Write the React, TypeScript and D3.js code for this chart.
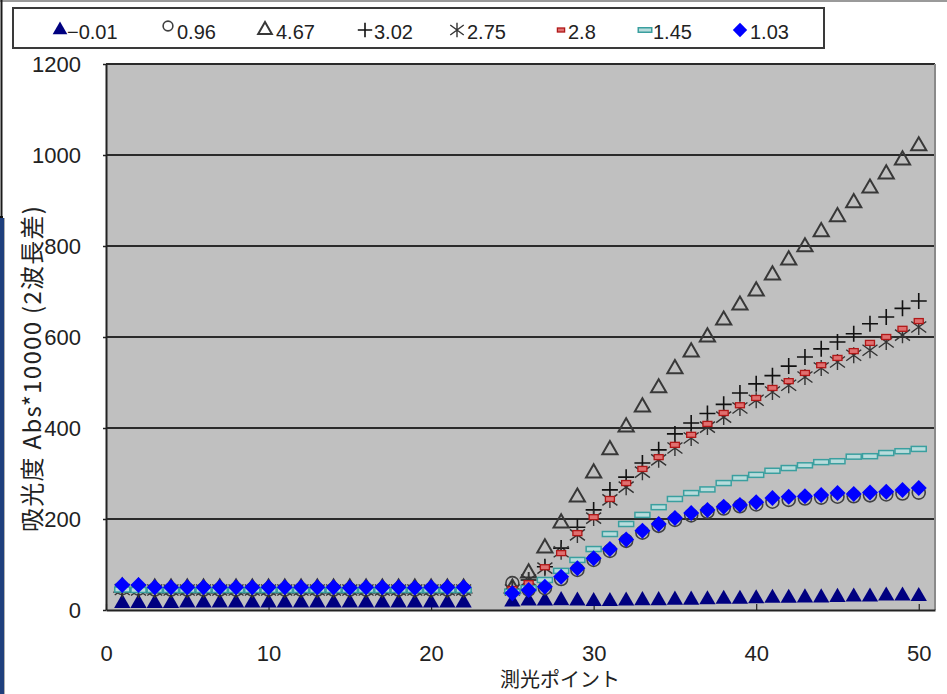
import { useEffect, useRef } from 'react';
import * as d3 from 'd3';

// measurement points (23 and 24 are missing)
const points = [
  1, 2, 3, 4, 5, 6, 7, 8, 9, 10, 11, 12, 13, 14, 15, 16, 17, 18, 19, 20, 21, 22,
  25, 26, 27, 28, 29, 30, 31, 32, 33, 34, 35, 36, 37, 38, 39, 40, 41, 42, 43, 44, 45, 46, 47, 48, 49, 50,
];

const seriesNames = ['-0.01', '0.96', '4.67', '3.02', '2.75', '2.8', '1.45', '1.03'];

const sMinus001 = [
  15, 15, 15, 15, 16, 16, 16, 16, 16, 16, 16, 16, 16, 16, 16, 16, 16, 16, 16, 16, 16, 16,
  18, 20, 20, 21, 20, 19, 19, 20, 21, 21, 22, 22, 23, 24, 24, 25, 26, 26, 27, 27, 28, 29, 29, 31, 31, 30,
];
const s096 = [
  48, 47, 45, 45, 45, 45, 45, 45, 45, 45, 45, 45, 45, 45, 45, 45, 45, 45, 45, 45, 45, 45,
  59, 45, 48, 68, 88, 110, 130, 152, 170, 185, 198, 208, 216, 223, 228, 232, 238, 242, 245, 247, 249, 250, 252, 254, 256, 258,
];
const s467 = [
  50, 49, 48, 48, 48, 48, 48, 48, 48, 48, 48, 48, 48, 48, 48, 48, 48, 48, 48, 48, 48, 48,
  48, 81, 136, 191, 248, 301, 352, 402, 446, 488, 530, 567, 600, 637, 670, 701, 736, 769, 798, 831, 864, 895, 927, 958, 989, 1020,
];
const s302 = [
  47, 46, 46, 46, 46, 46, 46, 46, 46, 46, 46, 46, 46, 46, 46, 46, 46, 46, 46, 46, 46, 46,
  45, 66, 95, 136, 182, 220, 264, 292, 323, 352, 387, 411, 432, 452, 477, 497, 515, 536, 556, 574, 589, 607, 629, 644, 663, 679,
];
const s275 = [
  45, 44, 44, 44, 44, 44, 44, 44, 44, 44, 44, 44, 44, 44, 44, 44, 44, 44, 44, 44, 44, 44,
  44, 66, 92, 128, 165, 202, 242, 270, 303, 330, 356, 378, 402, 424, 444, 461, 479, 494, 512, 532, 545, 560, 571, 589, 604, 622,
];
const s28 = [
  47, 46, 46, 46, 46, 46, 46, 46, 46, 46, 46, 46, 46, 46, 46, 46, 46, 46, 46, 46, 46, 46,
  46, 59, 94, 125, 169, 204, 244, 279, 310, 336, 363, 385, 409, 433, 450, 466, 488, 503, 521, 538, 554, 569, 587, 600, 618, 635,
];
const s145 = [
  45, 44, 44, 44, 44, 44, 44, 44, 44, 44, 44, 44, 44, 44, 44, 44, 44, 44, 44, 44, 44, 44,
  40, 48, 66, 86, 110, 134, 167, 189, 209, 226, 244, 257, 265, 279, 290, 297, 306, 312, 318, 325, 327, 337, 338, 345, 349, 354,
];
const s103 = [
  55, 55, 50, 50, 50, 50, 50, 50, 50, 50, 50, 50, 50, 50, 49, 50, 50, 50, 49, 50, 50, 50,
  37, 44, 51, 73, 92, 114, 134, 155, 174, 189, 202, 213, 220, 227, 231, 237, 246, 249, 250, 253, 257, 255, 258, 260, 264, 268,
];

const xTicks = [0, 10, 20, 30, 40, 50];
const yTicks = [0, 200, 400, 600, 800, 1000, 1200];

const xTitle = '測光ポイント';
const yTitle = '吸光度 Abs*10000 (2波長差)';

const seriesValues = [sMinus001, s096, s467, s302, s275, s28, s145, s103];
const markerKinds = ['triFill', 'circle', 'triOpen', 'plus', 'star', 'redDash', 'tealDash', 'diamond'];

const W = 947;
const H = 694;
const FONT = '"Liberation Sans", Arial, "Noto Sans CJK JP", sans-serif';
const JFONT = '"Noto Sans CJK JP", "Liberation Sans", sans-serif';

type G = d3.Selection<SVGGElement, unknown, null, undefined>;

// draw a single marker centred on the origin of g
function drawMarker(g: G, kind: string, scale = 1) {
  const tri = (area: number) => d3.symbol().type(d3.symbolTriangle).size(area * scale * scale)()!;
  if (kind === 'triFill') {
    g.append('path').attr('d', tri(115)).attr('fill', '#000080');
  } else if (kind === 'circle') {
    g.append('circle').attr('r', 6.5 * scale).attr('fill', 'none').attr('stroke', '#404040').attr('stroke-width', 1.6);
  } else if (kind === 'triOpen') {
    g.append('path').attr('d', tri(100)).attr('fill', 'none').attr('stroke', '#383838').attr('stroke-width', 2);
  } else if (kind === 'plus') {
    const s = 8 * scale;
    g.append('path').attr('d', `M${-s},0H${s}M0,${-s}V${s}`).attr('stroke', '#111').attr('stroke-width', 1.6);
  } else if (kind === 'star') {
    const a = 7.5 * scale, b = 5.5 * scale, c = 8 * scale;
    g.append('path')
      .attr('d', `M${-a},${-b}L${a},${b}M${-a},${b}L${a},${-b}M0,${-c}V${c}`)
      .attr('stroke', '#333').attr('stroke-width', 1.4);
  } else if (kind === 'redDash') {
    g.append('rect').attr('x', -4.5 * scale).attr('y', -2.5 * scale).attr('width', 9 * scale).attr('height', 5 * scale)
      .attr('fill', '#e07070').attr('stroke', '#b01818').attr('stroke-width', 1.3);
  } else if (kind === 'tealDash') {
    g.append('rect').attr('x', -7.5 * scale).attr('y', -2.5 * scale).attr('width', 15 * scale).attr('height', 5 * scale)
      .attr('fill', '#b8dcdc').attr('stroke', '#3a9f9f').attr('stroke-width', 1.5);
  } else if (kind === 'diamond') {
    const s = 8 * scale;
    g.append('path').attr('d', `M0,${-s}L${s},0L0,${s}L${-s},0Z`).attr('fill', '#0000ff');
  }
}

const App = () => {
  const ref = useRef<SVGSVGElement | null>(null);

  useEffect(() => {
    const svg = d3.select(ref.current);
    svg.selectAll('*').remove();

    const plot = { left: 106, right: 935, top: 64, bottom: 610 };
    const x = d3.scaleLinear().domain([0, 51]).range([plot.left, plot.right]);
    const y = d3.scaleLinear().domain([0, 1200]).range([plot.bottom, plot.top]);

    svg.append('rect').attr('width', W).attr('height', H).attr('fill', '#fff');

    // screenshot frame remnants
    svg.append('line').attr('x1', 0).attr('x2', W).attr('y1', 1).attr('y2', 1).attr('stroke', '#9a9a9a').attr('stroke-width', 2);
    svg.append('line').attr('x1', 1.5).attr('x2', 1.5).attr('y1', 0).attr('y2', 217).attr('stroke', '#1a1a1a').attr('stroke-width', 2);
    svg.append('line').attr('x1', 0).attr('x2', 3).attr('y1', 217).attr('y2', 217).attr('stroke', '#111').attr('stroke-width', 2);
    svg.append('rect').attr('x', 0).attr('y', 218).attr('width', 4).attr('height', H - 218).attr('fill', '#1f3f7c');
    svg.append('line').attr('x1', 4.5).attr('x2', 4.5).attr('y1', 218).attr('y2', H).attr('stroke', '#b0b0b0');

    // plot area
    svg.append('rect')
      .attr('x', plot.left).attr('y', plot.top)
      .attr('width', plot.right - plot.left).attr('height', plot.bottom - plot.top)
      .attr('fill', '#c0c0c0');

    // gridlines
    svg.append('g')
      .selectAll('line')
      .data(yTicks.filter(t => t > 0))
      .enter()
      .append('line')
      .attr('x1', plot.left).attr('x2', plot.right)
      .attr('y1', d => y(d)).attr('y2', d => y(d))
      .attr('stroke', '#2a2a2a').attr('stroke-width', 2);

    // right border
    svg.append('line')
      .attr('x1', plot.right).attr('x2', plot.right).attr('y1', plot.top).attr('y2', plot.bottom)
      .attr('stroke', '#8a8a8a').attr('stroke-width', 2);

    // axes
    const xAxis = svg.append('g')
      .attr('transform', `translate(0,${plot.bottom})`)
      .call(d3.axisBottom(x).tickValues(xTicks).tickSize(-6).tickPadding(35).tickSizeOuter(0));
    xAxis.select('.domain').attr('stroke', '#222').attr('stroke-width', 2);
    xAxis.selectAll('.tick line').attr('stroke', '#222').attr('stroke-width', 1.2);
    xAxis.selectAll('text').attr('fill', '#222').attr('font-size', 22).attr('font-family', FONT);

    const yAxis = svg.append('g')
      .attr('transform', `translate(${plot.left},0)`)
      .call(d3.axisLeft(y).tickValues(yTicks).tickFormat(d3.format('d')).tickSize(3).tickPadding(22).tickSizeOuter(0));
    yAxis.select('.domain').attr('stroke', '#222').attr('stroke-width', 2);
    yAxis.selectAll('.tick line').attr('stroke', '#222').attr('stroke-width', 1.5);
    yAxis.selectAll('text').attr('fill', '#222').attr('font-size', 22).attr('font-family', FONT);

    // series markers
    seriesValues.forEach((vals, si) => {
      const kind = markerKinds[si];
      const sg = svg.append('g');
      vals.forEach((v, i) => {
        const m = sg.append('g').attr('transform', `translate(${x(points[i])},${y(v)})`);
        drawMarker(m, kind);
      });
    });

    // axis titles
    svg.append('text')
      .attr('x', 560).attr('y', 687)
      .attr('text-anchor', 'middle')
      .attr('font-family', JFONT).attr('font-size', 20).attr('fill', '#222')
      .text(xTitle);

    svg.append('text')
      .attr('transform', 'translate(41,369) rotate(-90)')
      .attr('text-anchor', 'middle')
      .attr('font-family', JFONT).attr('font-size', 24).attr('fill', '#222')
      .attr('textLength', 326).attr('lengthAdjust', 'spacing')
      .text(yTitle);

    // legend
    const legendMarkX = [60, 168, 265, 365, 457, 561, 645, 740];
    const legendTextX = [67, 177, 276, 374, 467, 568, 653, 750];
    const legend = svg.append('g');
    legend.append('rect')
      .attr('x', 13).attr('y', 8).attr('width', 811).attr('height', 40)
      .attr('fill', '#fff').attr('stroke', '#3a3a3a').attr('stroke-width', 2);
    seriesNames.forEach((name, i) => {
      const kind = markerKinds[i];
      const my = kind === 'circle' ? 26 : 30;
      const m = legend.append('g').attr('transform', `translate(${legendMarkX[i]},${my})`);
      drawMarker(m, kind, kind === 'circle' ? 0.75 : kind === 'redDash' ? 0.8 : 0.9);
      legend.append('text')
        .attr('x', legendTextX[i]).attr('y', 39)
        .attr('font-family', FONT).attr('font-size', 20).attr('fill', '#222')
        .text(name.startsWith('-') ? '\u2212' + name.slice(1) : name);
    });
  }, []);

  return (
    <svg
      ref={ref}
      width={W}
      height={H}
      style={{ position: 'absolute', left: 0, top: 0, display: 'block' }}
    />
  );
};

export default App;
